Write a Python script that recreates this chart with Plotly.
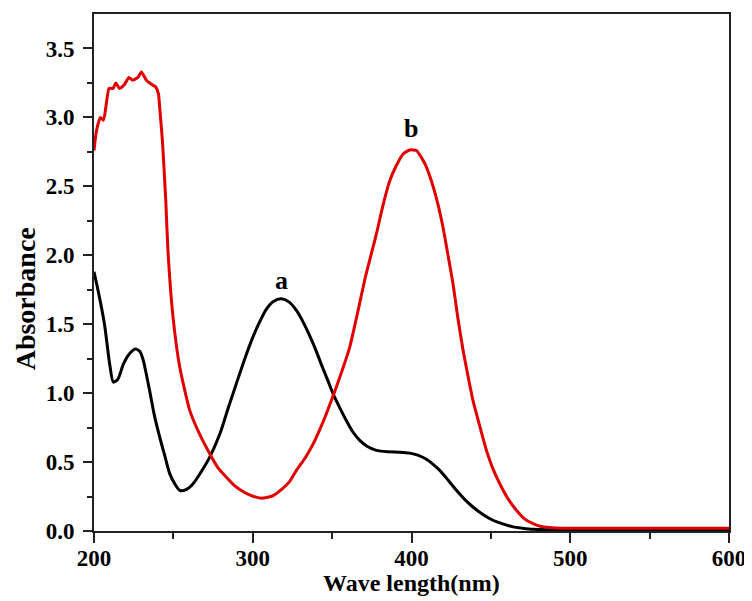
import plotly.graph_objects as go

# Curve a (black)
wl_a = [200, 203, 206.6, 210, 212.2, 215, 218.5, 222, 226, 229, 231, 235, 238, 241.4, 244.5,
        247.7, 251, 254, 258, 262.4, 267, 272.9, 279.3, 284.5, 289.7, 295, 300.2, 304.5, 308.6,
        313, 318, 323, 327.5, 332, 335.9, 340, 343.3, 347, 350.6, 355, 359, 363, 367.4, 372,
        377.9, 385, 392.6, 399, 404, 409.4, 414, 417.8, 423, 428.3, 433, 438.7, 445, 451.3,
        458, 464, 470, 476.6, 485, 500, 550, 600]
abs_a = [1.88, 1.72, 1.50, 1.20, 1.08, 1.10, 1.21, 1.28, 1.32, 1.30, 1.24, 1.02, 0.84, 0.68, 0.55,
         0.416, 0.34, 0.295, 0.30, 0.343, 0.42, 0.536, 0.705, 0.89, 1.07, 1.25, 1.41, 1.52, 1.61,
         1.665, 1.684, 1.66, 1.60, 1.51, 1.415, 1.305, 1.205, 1.10, 0.995, 0.89, 0.80, 0.72, 0.657, 0.615,
         0.585, 0.575, 0.572, 0.565, 0.55, 0.52, 0.48, 0.44, 0.37, 0.295, 0.235, 0.174, 0.12, 0.078,
         0.05, 0.03, 0.02, 0.012, 0.01, 0.01, 0.01, 0.01]

# Curve b (red)
wl_b = [200, 201.5, 204, 206, 209.5, 212, 213.7, 216.2, 219.3, 222, 224.2, 227.7, 229.9, 233, 236.2,
        238.9, 240.6, 241.4, 243.1, 245.2, 246.6, 249.8, 254, 260.3, 266.6, 272.9, 278, 283.4,
        288, 292, 298, 305.4, 312, 318, 323.3, 327.5, 333, 338, 342, 346, 350.6, 355, 361, 366,
        370.5, 374, 377.9, 382, 386.3, 390, 394.7, 398.9, 403.1, 406.2, 409, 412.5, 416, 419.9,
        423, 426.2, 429, 432.5, 436, 438.7, 443, 447.2, 451, 455.6, 461, 466.1, 471, 476.6, 481,
        487.1, 495, 550, 600]
abs_b = [2.76, 2.90, 3.00, 2.98, 3.21, 3.21, 3.25, 3.21, 3.24, 3.29, 3.27, 3.29, 3.33, 3.27, 3.24,
         3.22, 3.17, 3.07, 2.83, 2.40, 2.03, 1.55, 1.19, 0.875, 0.70, 0.56, 0.46, 0.39,
         0.335, 0.30, 0.262, 0.238, 0.252, 0.30, 0.36, 0.44, 0.53, 0.63, 0.73, 0.84, 0.98, 1.12, 1.33, 1.58,
         1.82, 1.98, 2.155, 2.36, 2.54, 2.64, 2.735, 2.764, 2.76, 2.71, 2.65, 2.54, 2.40, 2.20,
         2.00, 1.79, 1.56, 1.31, 1.10, 0.947, 0.76, 0.585, 0.46, 0.343, 0.23, 0.15, 0.09, 0.053, 0.035,
         0.025, 0.02, 0.02, 0.02]

labels = ["a", "b"]
label_x = [318, 399.5]
label_y = [1.82, 2.92]

font_family = "Liberation Serif"

fig = go.Figure()
fig.add_trace(go.Scatter(x=wl_a, y=abs_a, mode="lines",
                         line=dict(color="#000000", width=3, shape="spline", smoothing=0.7),
                         showlegend=False))
fig.add_trace(go.Scatter(x=wl_b, y=abs_b, mode="lines",
                         line=dict(color="#e00000", width=3, shape="spline", smoothing=0.5),
                         showlegend=False))

for t, x, y in zip(labels, label_x, label_y):
    fig.add_annotation(x=x, y=y, text=t, showarrow=False,
                       font=dict(family=font_family, size=26, color="black", weight="bold"))

# axis titles placed as text
fig.add_annotation(xref="paper", yref="paper", x=-0.1087, y=0.45, text="Absorbance",
                   textangle=-90, showarrow=False, xanchor="center", yanchor="middle",
                   font=dict(family=font_family, size=28, color="black", weight="bold"))
fig.add_annotation(xref="paper", yref="paper", x=0.5, y=-0.1006, text="Wave length(nm)",
                   showarrow=False, xanchor="center", yanchor="middle",
                   font=dict(family=font_family, size=24, color="black", weight="bold"))

axis_common = dict(
    showgrid=False, zeroline=False, showline=True, linecolor="#222222", linewidth=2,
    mirror=True, ticks="outside", tickcolor="#222222", tickwidth=2, automargin=False,
    tickfont=dict(family=font_family, size=23, color="black", weight="bold"),
)

fig.update_xaxes(range=[200, 600], tickvals=[200, 300, 400, 500, 600], ticklen=10,
                 ticklabelstandoff=-5,
                 minor=dict(tickvals=[250, 350, 450, 550], ticklen=6, tickcolor="#222222",
                            tickwidth=2, ticks="outside"),
                 **axis_common)
fig.update_yaxes(range=[0, 3.75], tickvals=[0, 0.5, 1.0, 1.5, 2.0, 2.5, 3.0, 3.5], tickformat=".1f",
                 ticklen=9, ticklabelstandoff=4,
                 minor=dict(tickvals=[0.25, 0.75, 1.25, 1.75, 2.25, 2.75, 3.25], ticklen=5,
                            tickcolor="#222222", tickwidth=2, ticks="outside"),
                 **axis_common)

# page body has an 8px default margin, so the figure is sized to fit the window
fig.update_layout(width=744, height=593, plot_bgcolor="white", paper_bgcolor="white",
                  margin=dict(l=86, r=23, t=6, b=70))

fig.write_html("out.html")
